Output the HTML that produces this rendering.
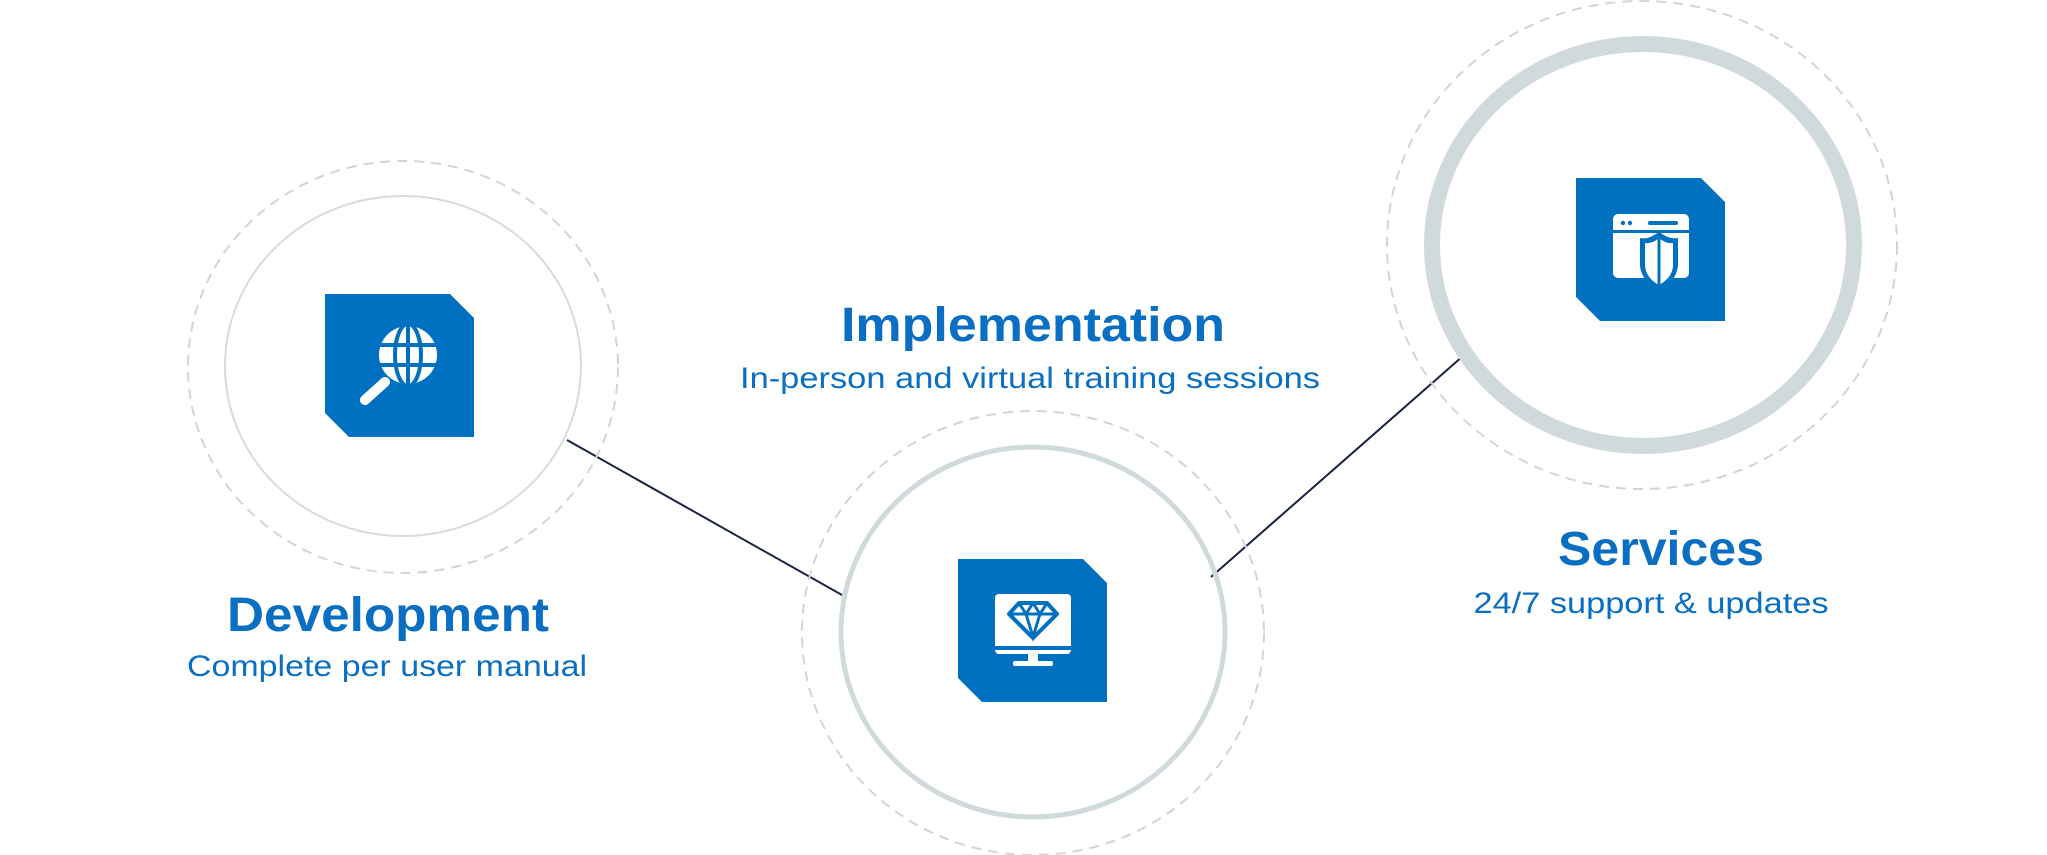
<!DOCTYPE html>
<html><head><meta charset="utf-8"><style>
html,body{margin:0;padding:0;background:#fff;}
svg{display:block;}
text{font-family:"Liberation Sans",sans-serif;fill:#0a6fc2;}
</style></head><body>
<svg width="2047" height="855" viewBox="0 0 2047 855" xmlns="http://www.w3.org/2000/svg">
<line x1="567" y1="440" x2="842" y2="595" stroke="#1a2440" stroke-width="2"/>
<line x1="1211" y1="577" x2="1463" y2="356" stroke="#1a2440" stroke-width="2"/>

<ellipse cx="403" cy="367" rx="215" ry="206" fill="none" stroke="#d4d4d4" stroke-width="2" stroke-dasharray="10 7"/>
<ellipse cx="403" cy="366" rx="178" ry="170" fill="none" stroke="#d6dcde" stroke-width="2"/>
<g transform="translate(325,294)">
<path d="M0,0 H125 L149,24 V143 H24 L0,119 Z" fill="#0070c0"/>
<circle cx="83" cy="61" r="29" fill="#fff"/>
<g stroke="#0070c0" stroke-width="4" fill="none">
<line x1="54" y1="51" x2="112" y2="51"/><line x1="54" y1="71" x2="112" y2="71"/>
<line x1="83" y1="30" x2="83" y2="92"/>
<ellipse cx="83" cy="61" rx="13" ry="31"/>
</g>
<line x1="60" y1="88" x2="40" y2="106" stroke="#fff" stroke-width="10" stroke-linecap="round"/>
</g>
<text x="388" y="631" font-size="48" font-weight="bold" text-anchor="middle" textLength="322" lengthAdjust="spacingAndGlyphs">Development</text>
<text x="387" y="676" font-size="30" text-anchor="middle" textLength="400" lengthAdjust="spacingAndGlyphs">Complete per user manual</text>

<ellipse cx="1033" cy="633" rx="231" ry="222" fill="none" stroke="#d4d4d4" stroke-width="2" stroke-dasharray="10 7"/>
<ellipse cx="1033" cy="632" rx="192" ry="185" fill="none" stroke="#d0dadd" stroke-width="5"/>
<g transform="translate(958,559)">
<path d="M0,0 H125 L149,24 V143 H24 L0,119 Z" fill="#0070c0"/>
<rect x="37" y="35" width="76" height="60" rx="4" fill="#fff"/>
<rect x="37" y="87" width="76" height="4" fill="#0070c0"/>
<rect x="55" y="102" width="40" height="5" rx="2" fill="#fff"/>
<rect x="70" y="95" width="10" height="8" fill="#fff"/>
<path d="M51,55 L61,44 H89 L99,55 L75,79 Z" fill="none" stroke="#0070c0" stroke-width="4" stroke-linejoin="round"/>
<path d="M51,55 H99 M61,44 L68,55 L75,44 L82,55 L89,44 M68,55 L75,78 L82,55" fill="none" stroke="#0070c0" stroke-width="3"/>
</g>
<text x="1033" y="341" font-size="48" font-weight="bold" text-anchor="middle" textLength="384" lengthAdjust="spacingAndGlyphs">Implementation</text>
<text x="1030" y="388" font-size="30" text-anchor="middle" textLength="580" lengthAdjust="spacingAndGlyphs">In-person and virtual training sessions</text>

<ellipse cx="1642" cy="245" rx="255" ry="244" fill="none" stroke="#d4d4d4" stroke-width="2" stroke-dasharray="10 7"/>
<ellipse cx="1643" cy="245" rx="211" ry="201" fill="none" stroke="#d0dadd" stroke-width="16"/>
<g transform="translate(1576,178)">
<path d="M0,0 H125 L149,24 V143 H24 L0,119 Z" fill="#0070c0"/>
<rect x="37" y="36" width="76" height="64" rx="5" fill="#fff"/>
<rect x="37" y="52" width="76" height="3" fill="#0070c0"/>
<circle cx="47" cy="45" r="2.2" fill="#0070c0"/><circle cx="54" cy="45" r="2.2" fill="#0070c0"/>
<rect x="72" y="43" width="30" height="4" rx="2" fill="#0070c0"/>
<path d="M64,60 Q72,62 83,54 Q94,62 102,60 V88 Q100,104 83,112 Q66,104 64,88 Z" fill="#0070c0"/>
<path d="M69,65 Q76,66 83,60 Q90,66 97,65 V88 Q96,100 83,107 Q70,100 69,88 Z" fill="#fff"/>
<line x1="83" y1="60" x2="83" y2="108" stroke="#0070c0" stroke-width="3"/>
</g>
<text x="1661" y="565" font-size="48" font-weight="bold" text-anchor="middle" textLength="206" lengthAdjust="spacingAndGlyphs">Services</text>
<text x="1651" y="613" font-size="30" text-anchor="middle" textLength="355" lengthAdjust="spacingAndGlyphs">24/7 support &amp; updates</text>
</svg>
</body></html>
